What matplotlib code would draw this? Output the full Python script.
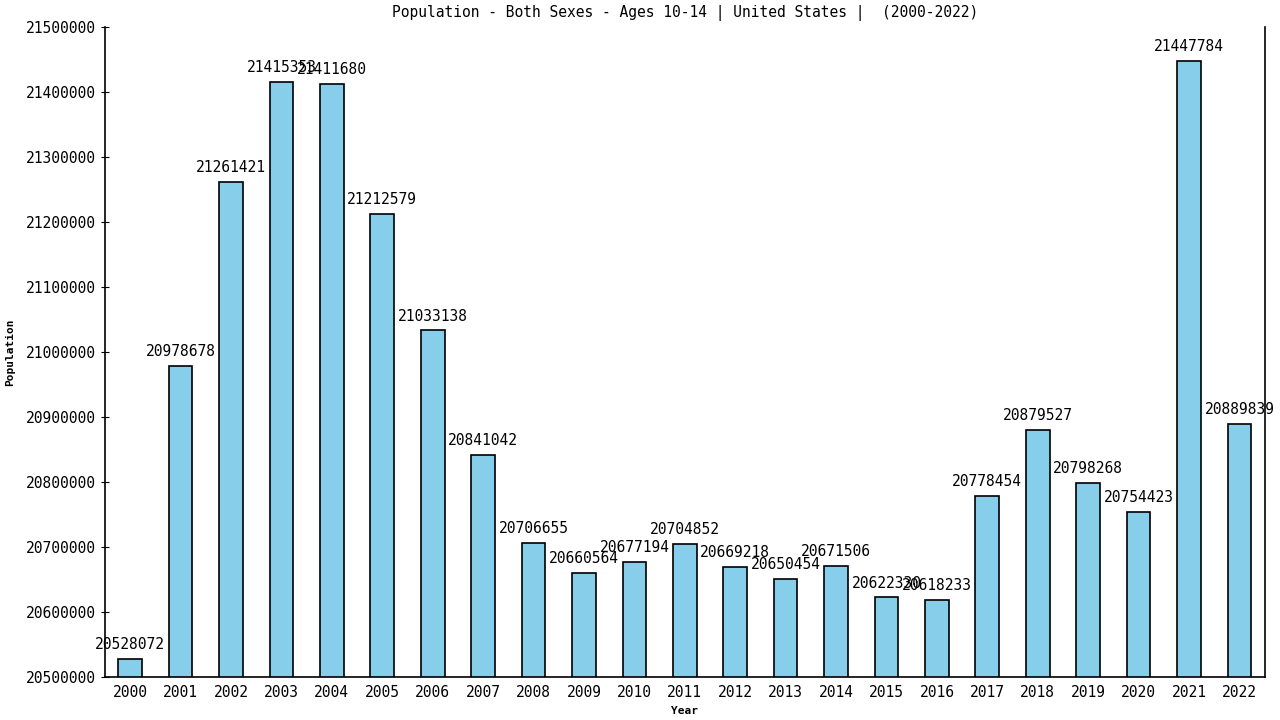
import matplotlib
matplotlib.use("Agg")
import matplotlib.pyplot as plt

years = [str(y) for y in range(2000, 2023)]
population = [20528072, 20978678, 21261421, 21415353, 21411680, 21212579,
              21033138, 20841042, 20706655, 20660564, 20677194, 20704852,
              20669218, 20650454, 20671506, 20622330, 20618233, 20778454,
              20879527, 20798268, 20754423, 21447784, 20889839]
yticks = list(range(20500000, 21500001, 100000))

plt.rcParams['font.family'] = ['DejaVu Sans Mono']

fig = plt.figure(figsize=(12.8, 7.2), dpi=100)
ax = fig.add_axes([0.082, 0.0597, 0.906, 0.9028])

x = range(len(years))
ax.bar(x, population, width=0.47, color='skyblue', edgecolor='black', linewidth=1.2)
for i, v in zip(x, population):
    ax.annotate(str(v), (i, v), xytext=(0, 5), textcoords='offset points',
                ha='center', va='bottom', fontsize=10.5)

ax.set_xlim(-0.5, len(years) - 0.5)
ax.set_ylim(20500000, 21500000)
ax.set_xticks(list(x))
ax.set_xticklabels(years, fontsize=10.5)
ax.set_yticks(yticks)
ax.set_yticklabels([str(t) for t in yticks], fontsize=10.5)
ax.tick_params(axis='x', length=0, pad=6)
ax.tick_params(axis='y', length=6, direction='inout')
ax.spines['top'].set_visible(False)
ax.spines['right'].set_linewidth(1.2)
ax.spines['left'].set_linewidth(1.2)
ax.spines['bottom'].set_linewidth(1.2)

ax.set_title("Population - Both Sexes - Ages 10-14 | United States |  (2000-2022)",
             fontsize=10.5, pad=7)
ax.set_xlabel("Year", fontsize=8, fontweight='bold', labelpad=4)
ax.set_ylabel("Population", fontsize=8, fontweight='bold', labelpad=8)

fig.savefig("out.png", dpi=100)
